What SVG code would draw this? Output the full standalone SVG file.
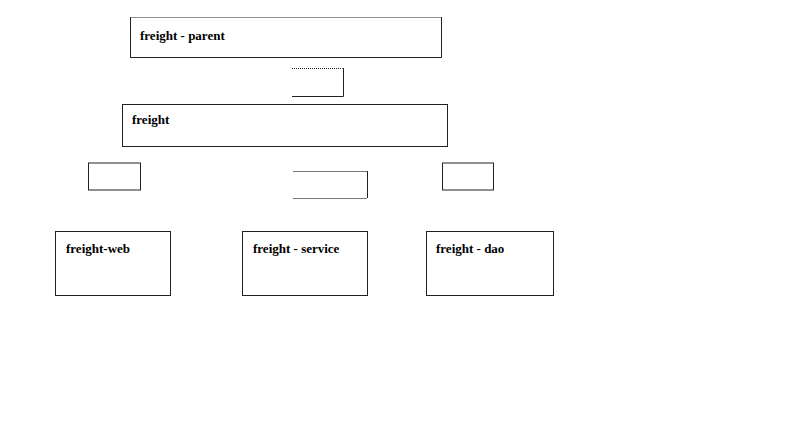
<svg xmlns="http://www.w3.org/2000/svg" width="797" height="438" viewBox="0 0 797 438">
<style>
.box{fill:#fff;stroke:#222;stroke-width:1}
.soft{fill:none;stroke:#777;stroke-width:1}
.dot{fill:none;stroke:#222;stroke-width:1;stroke-dasharray:1 1}
.lbl{font-family:"Liberation Serif",serif;font-size:13px;font-weight:bold;fill:#000}
</style>
<rect width="797" height="438" fill="#fff"/>
<g id="parent">
<rect class="box" x="130.5" y="17.5" width="311" height="40" stroke="none"/>
<path class="dot" d="M130.5 17.5 H441.5"/>
<path class="box" d="M441.5 17.5 V57.5 H130.5 V17.5" fill="none"/>
<text class="lbl" x="140" y="40">freight - parent</text>
</g>
<g id="link1">
<path class="dot" d="M292 68.5 H343"/>
<path class="box" fill="none" d="M343.5 68 V96.5 H292"/>
</g>
<g id="freight">
<rect class="box" x="122.5" y="104.5" width="325" height="42"/>
<text class="lbl" x="132" y="124">freight</text>
</g>
<g id="link2">
<rect class="box" x="88.5" y="163" width="52" height="27" stroke="#666"/>
<path class="box" fill="none" d="M140.5 163 V190"/>
</g>
<g id="link3">
<path class="soft" d="M293 171.5 H367 M293 198.5 H367"/>
<path class="box" fill="none" d="M367.5 171 V198"/>
</g>
<g id="link4">
<rect class="box" x="442.5" y="163" width="51" height="27" stroke="#666"/>
<path class="box" fill="none" d="M442.5 163 V190 M493.5 163 V190"/>
</g>
<g id="web">
<rect class="box" x="55.5" y="231.5" width="115" height="64"/>
<text class="lbl" x="66" y="253">freight-web</text>
</g>
<g id="service">
<rect class="box" x="242.5" y="231.5" width="125" height="64"/>
<text class="lbl" x="253" y="253">freight - service</text>
</g>
<g id="dao">
<rect class="box" x="426.5" y="231.5" width="127" height="64"/>
<text class="lbl" x="436" y="253">freight - dao</text>
</g>
</svg>
